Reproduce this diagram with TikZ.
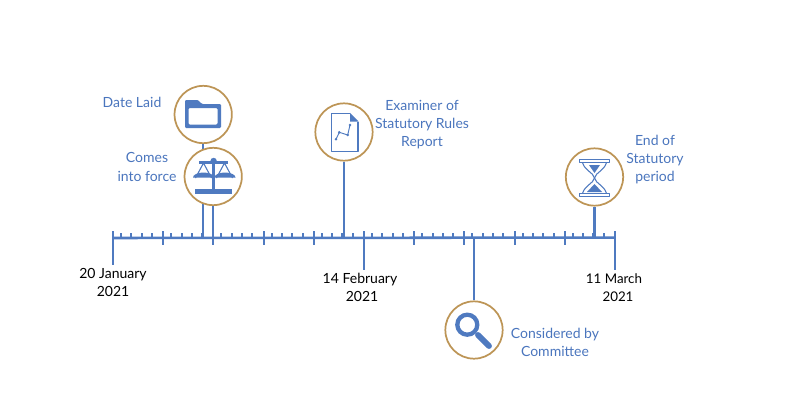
\documentclass[tikz,border=0pt]{standalone}
\usepackage{fontspec}
\setmainfont{Lato}
\definecolor{tlblue}{HTML}{4F7AC0}
\definecolor{tltext}{HTML}{4A75BD}
\definecolor{tlgold}{HTML}{BD9556}
\tikzset{
  x=0.75pt,y=-0.75pt,
  axisline/.style={draw=tlblue,line width=1.9pt},
  majortick/.style={draw=tlblue,line width=1.9pt},
  minortick/.style={draw=tlblue,line width=1.5pt},
  stem/.style={draw=tlblue,line width=1.9pt},
  badge/.style={circle,draw=tlgold,fill=white,line width=1.3pt,minimum size=43pt,inner sep=0pt},
  lab/.style={text=tltext,font=\fontsize{10.5}{13.6}\selectfont,align=center,inner sep=0pt},
  datelab/.style={text=black,font=\fontsize{10.5}{13.5}\selectfont,align=center,inner sep=0pt},
  icon/.style={draw=tlblue,line width=1pt,line join=round},
}
\begin{document}
\begin{tikzpicture}
\useasboundingbox (0,0) rectangle (790,400);
% axis
\coordinate (axL) at (113,238);
\coordinate (axR) at (615,237.6);
\coordinate (aDate) at (203.2,238);
\coordinate (aForce) at (213.2,238);
\coordinate (aExam) at (344,238);
\coordinate (aComm) at (474,238);
\coordinate (aEnd) at (594.5,237.6);
\coordinate (endA) at (113,265);
\coordinate (endB) at (364,270);
\coordinate (endC) at (615,270);
\draw[axisline] (axL) -- (axR);
\foreach \k in {0,...,9}{
  \pgfmathsetmacro{\bx}{113+50.2*\k}
  \foreach \m in {1,2,3,4}{
    \draw[minortick] ({\bx+8+10.3*(\m-1)},233) -- ({\bx+8+10.3*(\m-1)},238);
  }
}
\foreach \tx in {163,213.2,264,314,364,414,464,515,565}{
  \draw[majortick] (\tx,231) -- (\tx,245);
}
\draw[majortick] (113,231) -- (endA);
\draw[majortick] (364,238) -- (endB);
\draw[majortick] (615,231) -- (endC);
% badges
\node[badge] (nDate) at (203.2,114.5) {};
\draw[stem] (nDate) -- (aDate);
\node[badge] (nForce) at (213.2,176.5) {};
\draw[stem] (nForce) -- (aForce);
\node[badge] (nExam) at (344,132) {};
\draw[stem] (nExam) -- (aExam);
\node[badge] (nEnd) at (594.5,177) {};
\draw[stem] (nEnd) -- (aEnd);
\node[badge] (nComm) at (474,330) {};
\draw[stem] (aComm) -- (nComm);
% folder icon
\fill[tlblue,even odd rule,rounded corners=0.8pt]
  (185,128) -- (185,100) -- (198,100) -- (202,104) -- (221,104) -- (221,128) -- cycle
  (188.5,108) -- (188.5,124.5) -- (217.5,124.5) -- (217.5,108) -- cycle;
% scales icon
\fill[tlblue] (199,160.5) rectangle (228,163.5);
\fill[tlblue] (212.4,161) rectangle (214.8,190);
\fill[tlblue] (213.6,161) circle (3.2);
\fill[tlblue] (195,189) rectangle (232,194);
\draw[icon,line width=0.8pt] (195.5,178) -- (203.5,163) -- (211.5,178);
\draw[icon,line width=0.8pt] (216.5,178) -- (224.5,163) -- (232.5,178);
\fill[tlblue] (193,177.5) -- (214,177.5) arc[start angle=0,end angle=180,x radius=10.5,y radius=-5] -- cycle;
\fill[tlblue] (214.5,177.5) -- (235.5,177.5) arc[start angle=0,end angle=180,x radius=10.5,y radius=-5] -- cycle;
% document icon
\draw[icon,line width=1.3pt] (350,113.5) -- (331.5,113.5) -- (331.5,151.5) -- (358,151.5) -- (358,121.5);
\fill[tlblue] (350,112.8) -- (358.7,121.5) -- (350,121.5) -- cycle;
\draw[icon,line width=0.7pt] (336,139.3) -- (339.3,132.3) -- (347.7,135) -- (350,125);
\foreach \p in {(336,139.3),(339.3,132.3),(347.7,135),(350,125)}{\fill[tlblue] \p circle (1.4);}
% hourglass icon
\draw[icon,line width=0.9pt] (579.5,159.5) rectangle (609.5,162.5);
\draw[icon,line width=0.9pt] (579.5,193.5) rectangle (609.5,196.5);
\draw[icon,line width=0.8pt] (582.5,162.5) .. controls (585,171) and (593,172) .. (594.5,178) .. controls (596,184) and (604,185) .. (606.5,193.5);
\draw[icon,line width=0.8pt] (606.5,162.5) .. controls (604,171) and (596,172) .. (594.5,178) .. controls (593,184) and (585,185) .. (582.5,193.5);
\fill[tlblue] (589,165) -- (600,165) -- (594.5,173) -- cycle;
\fill[tlblue] (594.5,184) -- (602,192) -- (587,192) -- cycle;
% magnifier icon
\draw[tlblue,line width=3.2pt] (467.3,324.7) circle (10);
\draw[tlblue,line width=4.4pt,line cap=round] (478,335) -- (489,346);
% labels
\node[lab] (tDate) at (132,102) {Date Laid};
\node[lab] (tForce) at (147,167) {Comes\\into force};
\node[lab] (tExam) at (422,124.3) {Examiner of\\Statutory Rules\\Report};
\node[lab] (tEnd) at (655,159.3) {End of\\Statutory\\period};
\node[lab] (tComm) at (555,342) {Considered by\\Committee};
\node[datelab] (dA) at (113,282) {20 January\\2021};
\node[datelab] (dB) at (360,287) {14 February\\\hspace*{3pt}2021};
\node[datelab,font=\fontsize{10}{13.5}\selectfont] (dC) at (614,288) {11 March\\\hspace*{6pt}2021};
\end{tikzpicture}
\end{document}
